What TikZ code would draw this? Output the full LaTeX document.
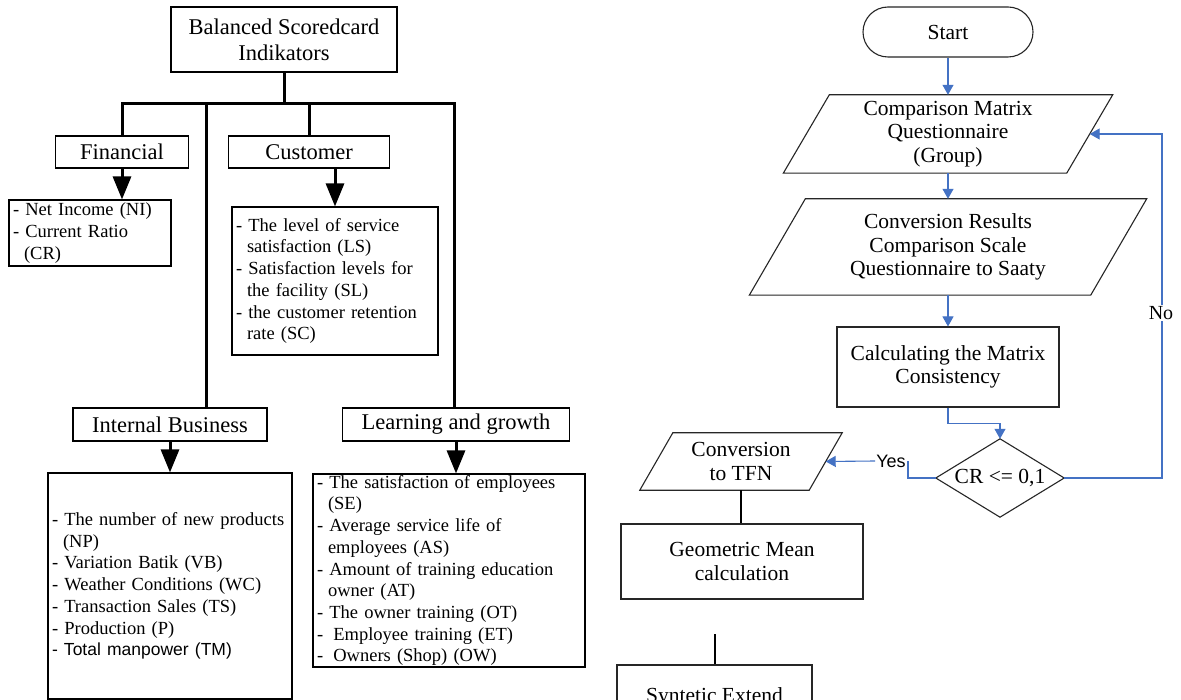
\documentclass[tikz,border=0pt]{standalone}
\usepackage{fontspec}
\setmainfont{Liberation Serif}
\newfontfamily\arialf{Liberation Sans}
\usetikzlibrary{arrows.meta,calc}
\definecolor{flowblue}{RGB}{68,114,196}
\begin{document}
\begin{tikzpicture}[x=1pt,y=-1pt,
  headbox/.style={draw=black,line width=1.1pt,inner sep=0pt,align=center,font=\fontsize{22.5}{26}\selectfont},
  listbox/.style={draw=black,line width=1.1pt,inner xsep=4pt,inner ysep=0pt,align=left,font=\fontsize{18.5}{21.7}\selectfont},
  tree/.style={line width=3pt,line cap=rect},
  treearrow/.style={line width=3pt,-{Triangle[length=23pt,width=18pt]}},
  flowbox/.style={draw=black!85,line width=1.1pt},
  flowtext/.style={inner sep=0pt,align=center,font=\fontsize{21.5}{23.5}\selectfont},
  blueline/.style={draw=flowblue,line width=1.1pt},
  bluearr/.style={draw=flowblue,line width=1.1pt,-{Triangle[length=10pt,width=11pt,fill=flowblue]}},
  flowline/.style={draw=black,line width=1.1pt}
]
\useasboundingbox (0,0) rectangle (1181,700);
\clip (0,0) rectangle (1181,700);
\fill[white] (0,0) rectangle (1181,700);

% ---------------- left: balanced scorecard tree
\node[headbox,minimum width=226pt,minimum height=65pt] (top) at (284,39.5) {Balanced Scoredcard\\Indikators};
\node[headbox,minimum width=133pt,minimum height=32pt] (fin) at (122,152) {Financial};
\node[headbox,minimum width=161pt,minimum height=32pt] (cust) at (309,152) {Customer};
\node[headbox,minimum width=194pt,minimum height=33pt] (ib) at (170,424.5) {Internal Business};
\node[headbox,minimum width=227pt,minimum height=33pt] (lg) at (456,424.5) {Learning and growth};

\node[listbox,text width=154pt,minimum height=66pt] (ni) at (90,233)
  {- Net Income (NI)\\- Current Ratio\\\hspace*{11pt}(CR)};
\node[listbox,text width=198pt,minimum height=148pt] (cl) at (335,281)
  {- The level of service\\\hspace*{11pt}satisfaction (LS)\\- Satisfaction levels for\\\hspace*{11pt}the facility (SL)\\- the customer retention\\\hspace*{11pt}rate (SC)};
\node[listbox,text width=236pt,minimum height=226pt] (il) at (170,586)
  {- The number of new products\\\hspace*{11pt}(NP)\\- Variation Batik (VB)\\- Weather Conditions (WC)\\- Transaction Sales (TS)\\- Production (P)\\{\arialf\fontsize{17.5}{21.7}\selectfont - Total manpower (TM)}};
\node[listbox,text width=264pt,minimum height=193pt] (ll) at (449,570.5)
  {- The satisfaction of employees\\\hspace*{11pt}(SE)\\- Average service life of\\\hspace*{11pt}employees (AS)\\- Amount of training education\\\hspace*{11pt}owner (AT)\\- The owner training (OT)\\-\hspace{0.55em}Employee training (ET)\\-\hspace{0.55em}Owners (Shop) (OW)};

\coordinate (j0) at (284,104);
\coordinate (bR) at (454,104);
\coordinate (b2) at (206,104);
\coordinate (b3) at (309,104);
\draw[tree] (top.south) -- (j0);
\draw[tree,line cap=butt] (fin.north) |- (bR) -- (bR |- lg.north);
\draw[tree,line cap=butt] (b2) -- (b2 |- ib.north);
\draw[tree,line cap=butt] (b3) -- (cust.north);

\draw[treearrow] (fin.south) -- (fin.south |- ni.north);
\draw[treearrow] (cust.south -| cl.north) -- (cl.north);
\draw[treearrow] (ib.south) -- (ib.south |- il.north);
\draw[treearrow] (lg.south) -- (lg.south |- ll.north);

% ---------------- right: flowchart
\node[flowbox,draw,rounded corners=25pt,minimum width=170pt,minimum height=50pt,flowtext] (start) at (948,32) {Start};

\node[flowtext,minimum width=283pt,minimum height=78pt] (p1) at (948,134) {Comparison Matrix\\Questionnaire\\(Group)};
\draw[flowbox] ($(p1.north west)+(23,0)$) -- ($(p1.north east)+(23,0)$) -- ($(p1.south east)-(23,0)$) -- ($(p1.south west)-(23,0)$) -- cycle;

\node[flowtext,minimum width=341pt,minimum height=96pt] (p2) at (948,247) {Conversion Results\\Comparison Scale\\Questionnaire to Saaty};
\draw[flowbox] ($(p2.north west)+(28,0)$) -- ($(p2.north east)+(28,0)$) -- ($(p2.south east)-(28,0)$) -- ($(p2.south west)-(28,0)$) -- cycle;

\node[flowbox,draw,flowtext,minimum width=222pt,minimum height=80pt] (calc) at (948,367) {Calculating the Matrix\\Consistency};

\node[flowtext,minimum width=128pt,minimum height=78pt] (dia) at (1000,478) {CR <= 0,1};
\draw[flowbox] (dia.north) -- (dia.east) -- (dia.south) -- (dia.west) -- cycle;

\node[flowtext,minimum width=169pt,minimum height=57pt] (tfn) at (741,461.5) {Conversion\\to TFN};
\draw[flowbox] ($(tfn.north west)+(16.5,0)$) -- ($(tfn.north east)+(16.5,0)$) -- ($(tfn.south east)-(16.5,0)$) -- ($(tfn.south west)-(16.5,0)$) -- cycle;

\node[flowbox,draw,flowtext,minimum width=242pt,minimum height=75pt] (geo) at (742,561.5) {Geometric Mean\\calculation};

\node[flowbox,draw,flowtext,minimum width=195pt,minimum height=64pt] (syn) at (714.5,697) {Syntetic Extend};

% connectors
\draw[bluearr] (start.south) -- (p1.north);
\draw[bluearr] (p1.south) -- (p2.north);
\draw[bluearr] (p2.south) -- (calc.north);
\draw[bluearr] (calc.south) -- ++(0,16) -| (dia.north);

\coordinate (nc) at (1162,134);
\draw[bluearr] (dia.east) -| (nc) -- (p1.east);
\node[fill=white,inner sep=1pt,font=\fontsize{20}{22}\selectfont] (no) at (1161,313) {No};

\node[inner sep=1pt,font=\arialf\fontsize{18}{20}\selectfont] (yes) at (891,461) {Yes};
\coordinate (yc) at (908,461);
\draw[blueline] (dia.west) -| (yc);
\draw[bluearr] (yes.west) -- (tfn.east);

\draw[flowline] (tfn.south) -- (tfn.south |- geo.north);
\coordinate (sy) at (715,634);
\draw[flowline] (sy) -- (sy |- syn.north);
\end{tikzpicture}
\end{document}
